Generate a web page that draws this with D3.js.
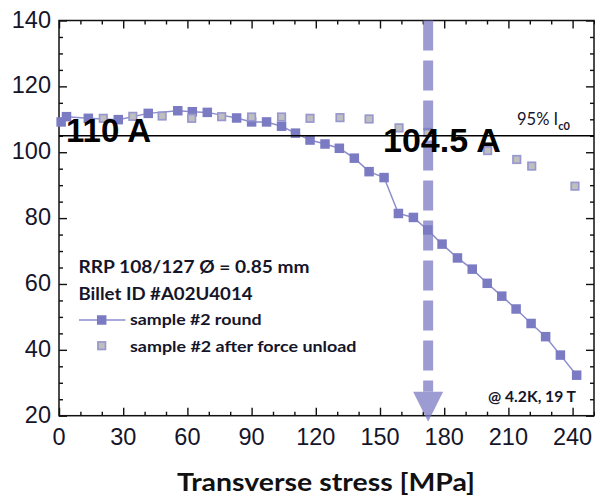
<!DOCTYPE html>
<html>
<head>
<meta charset="utf-8">
<script src="https://cdn.jsdelivr.net/npm/d3@7"></script>
<style>
  html, body { margin: 0; padding: 0; background: #fff; }
  svg { display: block; }
</style>
</head>
<body>
<svg id="chart" width="595" height="496"></svg>
<script>
// ---- data ----
const roundStress = [1, 3.5, 13.7, 27.7, 41.7, 55.5, 62.3, 69.3, 83, 90, 97, 104, 110.5, 117.3, 124.3, 131, 138, 144.9, 151.9, 158.6, 165.6, 172.3, 179, 186.2, 193.1, 200.1, 206.9, 213.6, 220.6, 227.4, 234.3, 241.9];
const roundIc     = [109.2, 110.8, 110.3, 109.9, 111.8, 112.6, 112.3, 112.1, 110.4, 109.2, 109.2, 107.9, 105.8, 103.7, 102.5, 101.2, 98.2, 94.1, 92.3, 81.4, 80.2, 76.4, 72.1, 67.9, 64.5, 60.2, 56.3, 52.4, 48.0, 44.0, 38.4, 32.3];
const unloadStress = [20.7, 34.5, 48.2, 62, 76, 90, 104, 117.3, 131.3, 144.9, 158.9, 172.4, 200.3, 213.9, 220.9, 241.1];
const unloadIc     = [110.3, 110.9, 111.0, 110.3, 110.8, 110.7, 110.7, 110.3, 110.5, 110.1, 107.4, 106.0, 100.5, 97.8, 95.8, 89.7];
const xTicks = [0, 30, 60, 90, 120, 150, 180, 210, 240];
const yTicks = [20, 40, 60, 80, 100, 120, 140];
const refLevel = 105;         // 95% Ic0
const arrowStress = 172.5;
const legendLabels = ["sample #2 round", "sample #2 after force unload"];
const infoLines = ["RRP 108/127 \u00D8 = 0.85 mm", "Billet ID #A02U4014"];

// ---- scales ----
const svg = d3.select("#chart");
const x = d3.scaleLinear().domain([0, 250]).range([59, 594]);
const y = d3.scaleLinear().domain([20, 140]).range([415.7, 20.5]);
const X0 = x.range()[0], X1 = x.range()[1], Y0 = y.range()[0], Y1 = y.range()[1];

const purple = "#7b7bc4";
const purpleLine = "#8d8dcc";
const grayFill = "#bfbfbf";
const grayStroke = "#9898cf";
const txt = "#15152a";
const calibri = "Lato, 'Open Sans', sans-serif";

// ---- axes (ticks inward on all four sides) ----
const xMinor = d3.range(0, 251, 10).filter(v => v % 30 !== 0);
const yMinor = d3.range(20, 141, 5).filter(v => v % 20 !== 0);

function tickAxis(gen, scale, major, minor, transform) {
  const g = svg.append("g").attr("transform", transform);
  g.append("g").call(gen(scale).tickValues(minor).tickSize(-4).tickFormat(""))
    .call(s => s.select(".domain").remove());
  g.append("g").call(gen(scale).tickValues(major).tickSize(-8).tickFormat(""))
    .call(s => s.select(".domain").remove());
  g.selectAll("line").attr("stroke", "#111").attr("stroke-width", 1.4);
  return g;
}
tickAxis(d3.axisBottom, x, xTicks, xMinor, `translate(0,${Y0})`);
tickAxis(d3.axisTop, x, xTicks, xMinor, `translate(0,${Y1})`);
tickAxis(d3.axisLeft, y, yTicks, yMinor, `translate(${X0},0)`);
tickAxis(d3.axisRight, y, yTicks, yMinor, `translate(${X1},0)`);

// frame
svg.append("rect").attr("x", X0).attr("y", Y1).attr("width", X1 - X0).attr("height", Y0 - Y1)
  .attr("fill", "none").attr("stroke", "#111").attr("stroke-width", 1.5);

// tick labels
svg.append("g").selectAll("text").data(xTicks).join("text")
  .attr("x", d => x(d)).attr("y", Y0 + 29)
  .attr("text-anchor", "middle")
  .attr("font-family", "'Liberation Sans', Arial, sans-serif").attr("font-size", 23.5)
  .attr("fill", txt).text(d => d);
svg.append("g").selectAll("text").data(yTicks).join("text")
  .attr("x", X0 - 8).attr("y", d => y(d) + 7)
  .attr("text-anchor", "end")
  .attr("font-family", "'Liberation Sans', Arial, sans-serif").attr("font-size", 23.5)
  .attr("fill", txt).text(d => d);

// x title
svg.append("text").attr("x", 177).attr("y", 490.5)
  .attr("font-family", calibri).attr("font-weight", "bold").attr("font-size", 24)
  .attr("textLength", 298).attr("lengthAdjust", "spacingAndGlyphs")
  .attr("fill", "#111").text("Transverse stress [MPa]");

// ---- series ----
const round = roundStress.map((s, i) => ({ s, v: roundIc[i] }));
const unload = unloadStress.map((s, i) => ({ s, v: unloadIc[i] }));

svg.append("path").datum(round)
  .attr("d", d3.line().x(d => x(d.s)).y(d => y(d.v)))
  .attr("fill", "none").attr("stroke", purpleLine).attr("stroke-width", 1.5);

const ps = 9.5;
svg.append("g").selectAll("rect").data(round).join("rect")
  .attr("x", d => x(d.s) - ps / 2).attr("y", d => y(d.v) - ps / 2)
  .attr("width", ps).attr("height", ps).attr("fill", purple);

const gs = 7.5;
svg.append("g").selectAll("rect").data(unload).join("rect")
  .attr("x", d => x(d.s) - gs / 2).attr("y", d => y(d.v) - gs / 2)
  .attr("width", gs).attr("height", gs)
  .attr("fill", grayFill).attr("stroke", grayStroke).attr("stroke-width", 1.7);

// 95% Ic0 reference line
svg.append("line").attr("x1", X0).attr("x2", X1).attr("y1", y(refLevel)).attr("y2", y(refLevel))
  .attr("stroke", "#000").attr("stroke-width", 1.5);

// dashed arrow
const ax = x(arrowStress);
const arrowG = svg.append("g").attr("opacity", 0.75);
arrowG.append("line").attr("x1", ax).attr("x2", ax).attr("y1", Y1).attr("y2", 391.7)
  .attr("stroke", purple).attr("stroke-width", 10).attr("stroke-dasharray", "30 10");
arrowG.append("path")
  .attr("d", `M${ax - 15},391.7 L${ax + 15},391.7 L${ax},421.7 Z`)
  .attr("fill", purple);

// ---- annotations ----
svg.append("text").attr("x", 66).attr("y", 141.8)
  .attr("font-family", "'Liberation Sans', Arial, sans-serif").attr("font-weight", "bold")
  .attr("font-size", 33).attr("fill", "#000").text("110 A");
svg.append("text").attr("x", 383).attr("y", 151.8)
  .attr("font-family", "'Liberation Sans', Arial, sans-serif").attr("font-weight", "bold")
  .attr("font-size", 34).attr("fill", "#000").text("104.5 A");

const ic = svg.append("text").attr("x", 517).attr("y", 124.5)
  .attr("font-family", calibri).attr("font-size", 16.5).attr("fill", txt);
ic.append("tspan").text("95% I");
ic.append("tspan").attr("font-size", 11).attr("dy", 5).attr("font-weight", "bold").text("c0");

svg.append("text").attr("x", 488).attr("y", 401.5)
  .attr("font-family", calibri).attr("font-size", 15).attr("font-weight", "bold")
  .attr("textLength", 88).attr("lengthAdjust", "spacingAndGlyphs")
  .attr("fill", txt).text("@ 4.2K, 19 T");

// info lines
const infoLen = [231, 174];
svg.append("g").selectAll("text").data(infoLines).join("text")
  .attr("x", 78.5).attr("y", (d, i) => 273 + i * 27)
  .attr("font-family", calibri).attr("font-weight", "bold").attr("font-size", 16.5)
  .attr("textLength", (d, i) => infoLen[i]).attr("lengthAdjust", "spacingAndGlyphs")
  .attr("fill", txt).text(d => d);

// legend
const lg = svg.append("g");
lg.append("line").attr("x1", 79).attr("x2", 125.5).attr("y1", 320).attr("y2", 320)
  .attr("stroke", purpleLine).attr("stroke-width", 1.5);
lg.append("rect").attr("x", 101.7 - ps / 2).attr("y", 320 - ps / 2).attr("width", ps).attr("height", ps)
  .attr("fill", purple);
lg.append("rect").attr("x", 101.7 - gs / 2).attr("y", 345.7 - gs / 2).attr("width", gs).attr("height", gs)
  .attr("fill", grayFill).attr("stroke", grayStroke).attr("stroke-width", 1.7);
const legLen = [131.5, 226.5];
lg.selectAll("text.leg").data(legendLabels).join("text").attr("class", "leg")
  .attr("x", 130).attr("y", (d, i) => 325 + i * 26.5)
  .attr("font-family", calibri).attr("font-weight", "bold").attr("font-size", 16)
  .attr("textLength", (d, i) => legLen[i]).attr("lengthAdjust", "spacingAndGlyphs")
  .attr("fill", txt).text(d => d);
</script>
</body>
</html>
